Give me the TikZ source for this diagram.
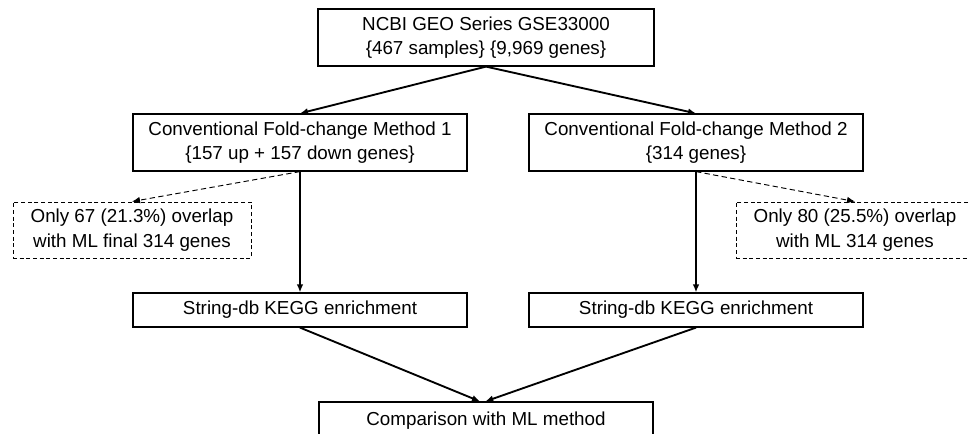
\documentclass[tikz,border=0pt]{standalone}
\usepackage{fontspec}
\setmainfont{Liberation Sans}
\usetikzlibrary{arrows.meta}
\begin{document}
\begin{tikzpicture}[x=0.75pt,y=-0.75pt,
  font=\fontsize{14.1}{18.5}\selectfont,
  box/.style={draw=black,line width=0.9pt,inner sep=0pt,align=center},
  dbox/.style={draw=black,line width=0.7pt,dash pattern=on 3pt off 2pt,inner sep=0pt,align=center},
  arr/.style={line width=1.4pt,-{Latex[length=6pt,width=5pt]}},
  darr/.style={line width=0.7pt,dash pattern=on 4pt off 2.5pt,-{Latex[length=6pt,width=5pt]}}]
\useasboundingbox (0,0) rectangle (969,433);
\node[box,minimum width=336*0.75pt,minimum height=57*0.75pt] (top) at (486,37.5) {NCBI GEO Series GSE33000\\\{467 samples\} \{9,969 genes\}};
\node[box,minimum width=334*0.75pt,minimum height=57*0.75pt] (m1) at (300,142.5) {Conventional Fold-change Method 1\\\{157 up + 157 down genes\}};
\node[box,minimum width=334*0.75pt,minimum height=57*0.75pt] (m2) at (696,142.5) {Conventional Fold-change Method 2\\\{314 genes\}};
\node[dbox,minimum width=238*0.75pt,minimum height=56*0.75pt] (d1) at (132,230) {Only 67 (21.3\%) overlap\\with ML final 314 genes};
\node[dbox,minimum width=238*0.75pt,minimum height=56*0.75pt] (d2) at (855,230) {Only 80 (25.5\%) overlap\\with ML 314 genes};
\node[box,minimum width=334*0.75pt,minimum height=34*0.75pt] (s1) at (300,310) {String-db KEGG enrichment};
\node[box,minimum width=334*0.75pt,minimum height=34*0.75pt] (s2) at (696,310) {String-db KEGG enrichment};
\node[box,minimum width=334*0.75pt,minimum height=38*0.75pt] (cmp) at (486,421) {Comparison with ML method};
\coordinate (cl) at ([xshift=-4.5pt]cmp.north);
\coordinate (cr) at ([xshift=-0.5pt]cmp.north);
\draw[arr] (top.south) -- (m1.north);
\draw[arr] (top.south) -- (m2.north);
\draw[darr] (m1.south) -- (d1.north);
\draw[darr] (m2.south) -- (d2.north);
\draw[arr] (m1.south) -- (s1.north);
\draw[arr] (m2.south) -- (s2.north);
\draw[arr] (s1.south) -- (cl);
\draw[arr] (s2.south) -- (cr);
\end{tikzpicture}
\end{document}
